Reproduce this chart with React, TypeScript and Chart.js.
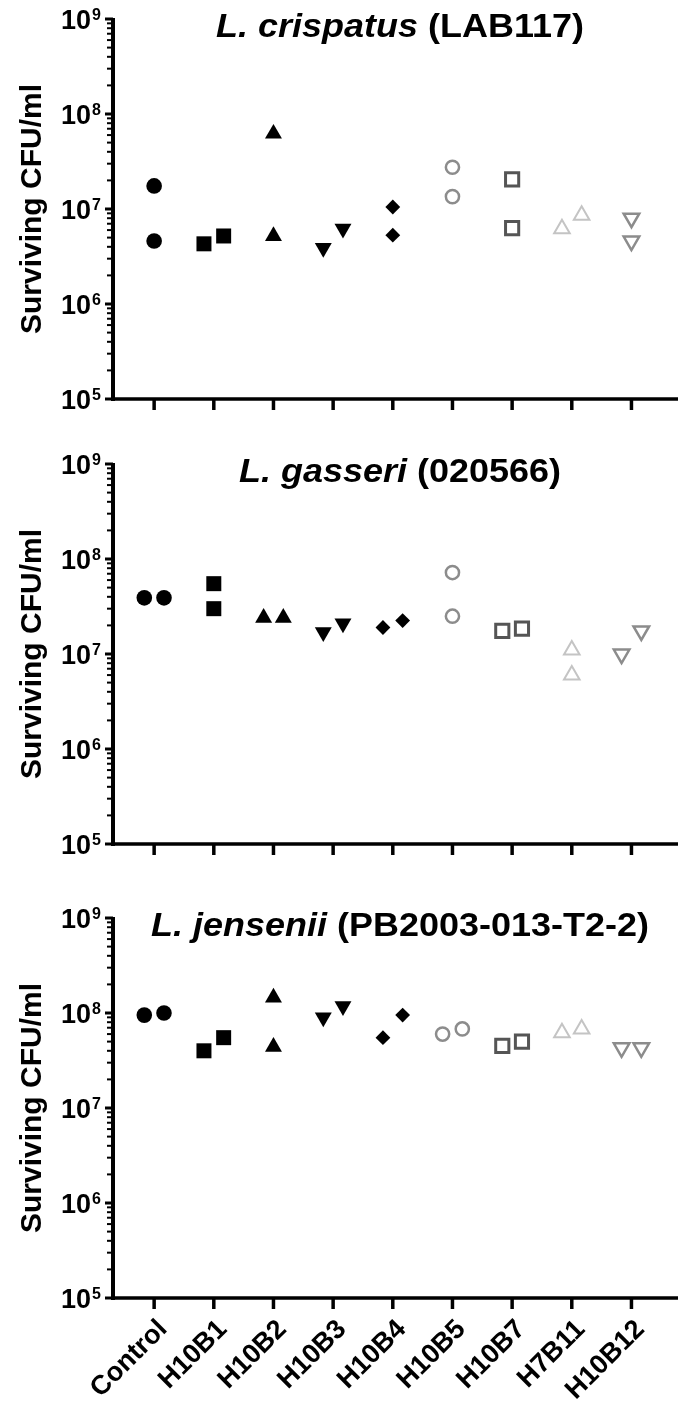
import React, { useEffect, useRef } from 'react';
import { Chart, registerables } from 'chart.js';

Chart.register(...registerables);

// ---------- data ----------
const categories = ['Control', 'H10B1', 'H10B2', 'H10B3', 'H10B4', 'H10B5', 'H10B7', 'H7B11', 'H10B12'];
const yTickExponents = [5, 6, 7, 8, 9];
const yAxisTitle = 'Surviving CFU/ml';

// L. crispatus (LAB117)
const crispatusTitle = ['L. crispatus', ' (LAB117)'];
const crispatusRep1 = [1.75e7, 4.3e6, 6.2e7, 3.9e6, 1.05e7, 2.75e7, 2.05e7, 6.2e6, 8.0e6];
const crispatusRep2 = [4.6e6, 5.2e6, 5.2e6, 6.2e6, 5.3e6, 1.35e7, 6.3e6, 8.6e6, 4.6e6];
const crispatusSideBySide = [0, 1, 0, 1, 0, 0, 0, 1, 0];

// L. gasseri (020566)
const gasseriTitle = ['L. gasseri', ' (020566)'];
const gasseriRep1 = [3.9e7, 5.5e7, 2.4e7, 1.7e7, 1.9e7, 7.2e7, 1.75e7, 1.1e7, 1.0e7];
const gasseriRep2 = [3.9e7, 3.0e7, 2.4e7, 2.1e7, 2.25e7, 2.5e7, 1.85e7, 6.0e6, 1.75e7];
const gasseriSideBySide = [1, 0, 1, 1, 1, 0, 1, 0, 1];

// L. jensenii (PB2003-013-T2-2)
const jenseniiTitle = ['L. jensenii', ' (PB2003-013-T2-2)'];
const jenseniiRep1 = [9.5e7, 4.0e7, 1.45e8, 9.0e7, 5.5e7, 6.0e7, 4.5e7, 6.2e7, 4.3e7];
const jenseniiRep2 = [1.0e8, 5.5e7, 4.4e7, 1.18e8, 9.5e7, 6.8e7, 5.0e7, 6.8e7, 4.3e7];
const jenseniiSideBySide = [1, 1, 0, 1, 1, 1, 1, 1, 1];

// ---------- styles ----------
const FONT = '"Liberation Sans", Arial, Helvetica, sans-serif';
const SPREAD = 0.165;

const markerStyles = [
  { style: 'circle', r: 7.8, fill: '#000', stroke: '#000', bw: 0, rot: 0 },
  { style: 'rect', r: 10.6, fill: '#000', stroke: '#000', bw: 0, rot: 0 },
  { style: 'triangle', r: 9.8, fill: '#000', stroke: '#000', bw: 0, rot: 0 },
  { style: 'triangle', r: 9.8, fill: '#000', stroke: '#000', bw: 0, rot: 180 },
  { style: 'rectRot', r: 7.4, fill: '#000', stroke: '#000', bw: 0, rot: 0 },
  { style: 'circle', r: 6.6, fill: 'rgba(0,0,0,0)', stroke: '#8c8c8c', bw: 2.5, rot: 0 },
  { style: 'rect', r: 9.3, fill: 'rgba(0,0,0,0)', stroke: '#555555', bw: 3, rot: 0 },
  { style: 'triangle', r: 9, fill: 'rgba(0,0,0,0)', stroke: '#c4c4c4', bw: 2, rot: 0 },
  { style: 'triangle', r: 9, fill: 'rgba(0,0,0,0)', stroke: '#8c8c8c', bw: 2.5, rot: 180 },
];

type PanelDef = {
  title: string[];
  rep1: number[];
  rep2: number[];
  side: number[];
  height: number;
  top: number;
  xHeight: number;
  showX: boolean;
};

const panels: PanelDef[] = [
  { title: crispatusTitle, rep1: crispatusRep1, rep2: crispatusRep2, side: crispatusSideBySide, height: 432, top: 19, xHeight: 33, showX: false },
  { title: gasseriTitle, rep1: gasseriRep1, rep2: gasseriRep2, side: gasseriSideBySide, height: 448, top: 32, xHeight: 36, showX: false },
  { title: jenseniiTitle, rep1: jenseniiRep1, rep2: jenseniiRep2, side: jenseniiSideBySide, height: 531, top: 38, xHeight: 113, showX: true },
];

function makePlugin(p: PanelDef) {
  return {
    id: 'gpAxes',
    afterDraw(chart: any) {
      const { ctx, chartArea, scales } = chart;
      const ys = scales.y;
      const xs = scales.x;
      const axisX = chartArea.left - 2;
      const axisY = chartArea.bottom;
      ctx.save();
      ctx.strokeStyle = '#000';
      ctx.fillStyle = '#000';
      ctx.lineCap = 'butt';
      const seg = (x1: number, y1: number, x2: number, y2: number, w: number) => {
        ctx.lineWidth = w;
        ctx.beginPath();
        ctx.moveTo(x1, y1);
        ctx.lineTo(x2, y2);
        ctx.stroke();
      };
      // axes lines
      seg(axisX, chartArea.top - 1, axisX, axisY + 2, 4);
      seg(axisX - 2, axisY, chart.width, axisY, 3.5);
      // y ticks
      yTickExponents.forEach((e) => {
        const py = ys.getPixelForValue(Math.pow(10, e));
        seg(axisX - 8, py, axisX, py, 3);
        if (e < 9) {
          for (let k = 2; k <= 9; k++) {
            const pk = ys.getPixelForValue(k * Math.pow(10, e));
            seg(axisX - 6, pk, axisX, pk, 2);
          }
        }
      });
      // y labels 10^n
      const labelRight = chartArea.left - 14;
      yTickExponents.forEach((e) => {
        const py = ys.getPixelForValue(Math.pow(10, e));
        ctx.font = `bold 16px ${FONT}`;
        ctx.textAlign = 'right';
        ctx.textBaseline = 'alphabetic';
        const sup = String(e);
        const supW = ctx.measureText(sup).width;
        ctx.fillText(sup, labelRight, py + 1);
        ctx.font = `bold 27px ${FONT}`;
        ctx.fillText('10', labelRight - supW - 1, py + 10);
      });
      // y title
      ctx.save();
      ctx.translate(41, (chartArea.top + chartArea.bottom) / 2);
      ctx.rotate(-Math.PI / 2);
      ctx.font = `bold 30px ${FONT}`;
      ctx.textAlign = 'center';
      ctx.textBaseline = 'alphabetic';
      ctx.fillText(yAxisTitle, 0, 0);
      ctx.restore();
      // x ticks
      categories.forEach((_, i) => {
        const px = xs.getPixelForValue(i);
        seg(px, axisY, px, axisY + 11, 3.5);
      });
      // x labels
      if (p.showX) {
        ctx.font = `bold 27px ${FONT}`;
        ctx.textAlign = 'right';
        ctx.textBaseline = 'middle';
        categories.forEach((c, i) => {
          const px = xs.getPixelForValue(i);
          ctx.save();
          ctx.translate(px + 9, axisY + 27);
          ctx.rotate(-Math.PI / 4);
          ctx.fillText(c, 0, 0);
          ctx.restore();
        });
      }
      // title (italic species + plain strain)
      const fonts = [`italic bold 33px ${FONT}`, `bold 33px ${FONT}`];
      let total = 0;
      const widths = p.title.map((t, k) => {
        ctx.font = fonts[k];
        const w = ctx.measureText(t).width;
        total += w;
        return w;
      });
      const sx = 1.09;
      ctx.save();
      ctx.translate(400, chartArea.top + 18);
      ctx.scale(sx, 1);
      ctx.textAlign = 'left';
      ctx.textBaseline = 'alphabetic';
      let cx = -total / 2;
      p.title.forEach((t, k) => {
        ctx.font = fonts[k];
        ctx.fillText(t, cx, 0);
        cx += widths[k];
      });
      ctx.restore();
      ctx.restore();
    },
  };
}

function Panel({ p }: { p: PanelDef }) {
  const ref = useRef<HTMLCanvasElement | null>(null);
  useEffect(() => {
    if (!ref.current) return;
    const datasets = categories.map((c, i) => {
      const m = markerStyles[i];
      const off = p.side[i] ? SPREAD : 0;
      return {
        label: c,
        data: [
          { x: i - off, y: p.rep1[i] },
          { x: i + off, y: p.rep2[i] },
        ],
        pointStyle: m.style,
        pointRadius: m.r,
        pointRotation: m.rot,
        pointBackgroundColor: m.fill,
        pointBorderColor: m.stroke,
        pointBorderWidth: m.bw,
        showLine: false,
        clip: false,
      };
    });
    const chart = new Chart(ref.current, {
      type: 'scatter',
      data: { datasets: datasets as any },
      options: {
        animation: false,
        responsive: false,
        events: [],
        layout: { padding: { top: p.top, left: 0, right: 0, bottom: 0 } },
        plugins: {
          legend: { display: false },
          tooltip: { enabled: false },
          title: { display: false },
        },
        scales: {
          x: {
            type: 'linear',
            min: -0.656,
            max: 8.574,
            grid: { display: false, drawTicks: false },
            border: { display: false },
            ticks: { display: false },
            afterFit: (s: any) => {
              s.height = p.xHeight;
            },
          },
          y: {
            type: 'logarithmic',
            min: 1e5,
            max: 1e9,
            grid: { display: false, drawTicks: false },
            border: { display: false },
            ticks: { display: false },
            afterFit: (s: any) => {
              s.width = 115;
            },
          },
        },
      } as any,
      plugins: [makePlugin(p)],
    });
    return () => chart.destroy();
  }, [p]);
  return <canvas ref={ref} width={678} height={p.height} style={{ display: 'block' }} />;
}

export default function App() {
  useEffect(() => {
    document.body.style.margin = '0';
  }, []);
  return (
    <div style={{ width: 678, background: '#fff' }}>
      {panels.map((p, i) => (
        <Panel key={i} p={p} />
      ))}
    </div>
  );
}
